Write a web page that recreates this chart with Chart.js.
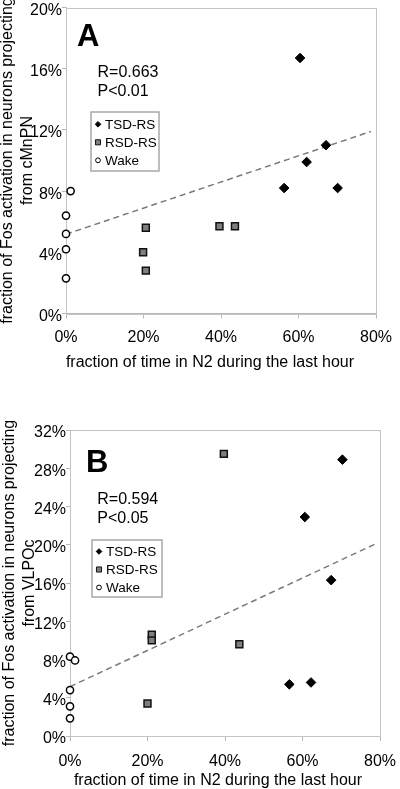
<!DOCTYPE html>
<html><head><meta charset="utf-8">
<script src="https://cdn.jsdelivr.net/npm/chart.js@4/dist/chart.umd.min.js"></script>
<style>
html,body{margin:0;padding:0;background:#fff;width:400px;height:789px;overflow:hidden}
canvas{position:absolute;left:0}
#ca{top:0}
#cb{top:390px}
</style></head><body>
<canvas id="ca" width="400" height="390"></canvas>
<canvas id="cb" width="400" height="399"></canvas>
<script>
// ---------- data ----------
const xTicks = [0, 20, 40, 60, 80];
const yTicksA = [0, 4, 8, 12, 16, 20];
const yTicksB = [0, 4, 8, 12, 16, 20, 24, 28, 32];
const legendLabels = ['TSD-RS', 'RSD-RS', 'Wake'];

// Panel A (cMnPN)
const tsdA_x = [60.4, 67.1, 62.1, 56.3, 70.1];
const tsdA_y = [16.7, 11.0, 9.9, 8.2, 8.2];
const rsdA_x = [20.6, 19.9, 20.6, 39.6, 43.6];
const rsdA_y = [5.6, 4.0, 2.8, 5.7, 5.7];
const wakeA_x = [1.2, 0, 0, 0, 0];
const wakeA_y = [8.0, 6.4, 5.2, 4.2, 2.3];
const trendA_x = [0, 78.7];
const trendA_y = [5.18, 11.9];

// Panel B (VLPOc)
const tsdB_x = [70.3, 60.6, 67.4, 56.6, 62.2];
const tsdB_y = [28.9, 22.9, 16.3, 5.4, 5.6];
const rsdB_x = [39.7, 21.1, 21.1, 43.7, 20.0];
const rsdB_y = [29.5, 10.6, 10.0, 9.6, 3.4];
const wakeB_x = [0, 1.3, 0, 0, 0];
const wakeB_y = [8.3, 7.9, 4.8, 3.1, 1.85];
const trendB_x = [0, 78.9];
const trendB_y = [5.16, 20.1];

// ---------- helpers ----------
const FONT = "'Liberation Sans', Arial, Helvetica, sans-serif";
Chart.defaults.font.family = FONT;
Chart.defaults.color = '#000';
const zip = (xs, ys) => xs.map((x, i) => ({x: x, y: ys[i]}));

function makeChart(id, cfg) {
  const styles = [
    {pointStyle: 'rectRot', radius: 4.8, bg: '#000', bc: '#000', bw: 1, lr: 2.8},
    {pointStyle: 'rect', radius: 4.9, bg: '#7f7f7f', bc: '#111', bw: 1.5, lr: 3.6},
    {pointStyle: 'circle', radius: 3.6, bg: '#fff', bc: '#000', bw: 1.5, lr: 2.4}
  ];
  const series = [zip(cfg.tsd_x, cfg.tsd_y), zip(cfg.rsd_x, cfg.rsd_y), zip(cfg.wake_x, cfg.wake_y)];
  const datasets = series.map((d, i) => ({
    label: legendLabels[i], data: d, order: 1, clip: false,
    pointStyle: styles[i].pointStyle, pointRadius: styles[i].radius, pointHoverRadius: styles[i].radius,
    pointBackgroundColor: styles[i].bg, pointBorderColor: styles[i].bc, pointBorderWidth: styles[i].bw,
    showLine: false
  }));
  datasets.push({
    type: 'line', label: 'trend', data: zip(cfg.trend_x, cfg.trend_y), order: 5, clip: false,
    borderColor: '#7a7a7a', borderWidth: 1.5, borderDash: [6, 4], pointRadius: 0, fill: false
  });

  const overlay = {
    id: 'overlay' + id,
    afterLayout(chart) {
      const s = chart.scales.x;
      if (s._shifted) return;
      const orig = s.drawTitle;
      s.drawTitle = function () {
        const l = this.left, r = this.right;
        this.left = l + cfg.xTitleShift; this.right = r + cfg.xTitleShift;
        orig.call(this);
        this.left = l; this.right = r;
      };
      s._shifted = true;
    },
    beforeDatasetsDraw(chart) {
      const {ctx, chartArea: a} = chart;
      ctx.save();
      ctx.strokeStyle = '#c4c4c4';
      ctx.lineWidth = 1;
      ctx.strokeRect(Math.round(a.left) + 0.5, Math.round(a.top) + 0.5,
                     Math.round(a.right - a.left), Math.round(a.bottom - a.top));
      ctx.restore();
    },
    afterDraw(chart) {
      const ctx = chart.ctx;
      ctx.save();
      ctx.fillStyle = '#000';
      ctx.textBaseline = 'alphabetic';
      ctx.textAlign = 'left';
      ctx.font = 'bold 31px ' + FONT;
      ctx.fillText(cfg.letter, cfg.letterX, cfg.letterY);
      ctx.font = '16px ' + FONT;
      ctx.fillText(cfg.stat1, cfg.statX, cfg.statY1);
      ctx.fillText(cfg.stat2, cfg.statX, cfg.statY2);
      // legend box
      const L = cfg.legend;
      ctx.strokeStyle = '#a8a8a8';
      ctx.lineWidth = 1.5;
      ctx.strokeRect(L.x, L.y, L.w, L.h);
      ctx.font = '13.5px ' + FONT;
      ctx.textBaseline = 'middle';
      legendLabels.forEach((t, i) => {
        const cy = L.y + L.firstY + i * L.step;
        const s = styles[i];
        ctx.fillStyle = s.bg; ctx.strokeStyle = s.bc; ctx.lineWidth = 1;
        Chart.helpers.drawPoint(ctx, {pointStyle: s.pointStyle, radius: s.lr, borderWidth: 1}, L.x + 7, cy);
        ctx.fillStyle = '#000';
        ctx.fillText(t, L.x + 14, cy + 1);
      });
      ctx.restore();
    }
  };

  const tickFont = {size: 16, family: FONT};
  return new Chart(document.getElementById(id), {
    type: 'scatter',
    data: {datasets: datasets},
    plugins: [overlay],
    options: {
      responsive: false, animation: false, devicePixelRatio: 1,
      layout: {autoPadding: false, padding: {left: 0, right: cfg.padRight, top: cfg.top, bottom: 0}},
      plugins: {legend: {display: false}, tooltip: {enabled: false}},
      scales: {
        x: {
          type: 'linear', min: 0, max: 80,
          afterBuildTicks: s => { s.ticks = xTicks.map(v => ({value: v})); },
          ticks: {callback: v => v + '%', font: tickFont, color: '#000', padding: cfg.xTickPad, maxRotation: 0, autoSkip: false},
          grid: {drawOnChartArea: false, tickLength: 5, color: '#b8b8b8'},
          border: {color: '#b8b8b8'},
          title: {display: true, text: 'fraction of time in N2 during the last hour', font: {size: 16, family: FONT}, color: '#000', padding: {top: 0, bottom: cfg.xTitlePad}},
          afterFit: s => { s.height = cfg.xAxisH; s.paddingLeft = 0; s.paddingRight = 0; }
        },
        y: {
          type: 'linear', min: 0, max: cfg.yMax,
          afterBuildTicks: s => { s.ticks = cfg.yTicks.map(v => ({value: v})); },
          ticks: {callback: v => v + '%', font: tickFont, color: '#000', padding: 0, labelOffset: 3},
          grid: {drawOnChartArea: false, tickLength: 4, color: '#b8b8b8'},
          border: {color: '#b8b8b8'},
          title: {display: true, text: ['fraction of Fos activation in neurons projecting', cfg.yTitle2], font: {size: 16, family: FONT, lineHeight: 1.25}, color: '#000', padding: {top: cfg.yTitlePad, bottom: 0}},
          afterFit: s => { s.width = cfg.yAxisW; s.paddingTop = 0; s.paddingBottom = 0; }
        }
      }
    }
  });
}

makeChart('ca', {
  tsd_x: tsdA_x, tsd_y: tsdA_y, rsd_x: rsdA_x, rsd_y: rsdA_y, wake_x: wakeA_x, wake_y: wakeA_y,
  trend_x: trendA_x, trend_y: trendA_y,
  yMax: 20, yTicks: yTicksA, yTitle2: 'from cMnPN',
  yAxisW: 66, padRight: 24, top: 7.5, xAxisH: 390 - 313.5, xTitlePad: 18, yTitlePad: -2,
  xTickPad: 9, xTitleShift: -11,
  letter: 'A', letterX: 77, letterY: 45.5,
  stat1: 'R=0.663', stat2: 'P<0.01', statX: 97.5, statY1: 76.7, statY2: 95.7,
  legend: {x: 91, y: 112, w: 68, h: 59, firstY: 12.3, step: 18}
});

makeChart('cb', {
  tsd_x: tsdB_x, tsd_y: tsdB_y, rsd_x: rsdB_x, rsd_y: rsdB_y, wake_x: wakeB_x, wake_y: wakeB_y,
  trend_x: trendB_x, trend_y: trendB_y,
  yMax: 32, yTicks: yTicksB, yTitle2: 'from VLPOc',
  yAxisW: 70, padRight: 20, top: 40, xAxisH: 399 - 346, xTitlePad: -1, yTitlePad: 0,
  xTickPad: 11, xTitleShift: -7,
  letter: 'B', letterX: 86, letterY: 81.7,
  stat1: 'R=0.594', stat2: 'P<0.05', statX: 97.3, statY1: 114, statY2: 133,
  legend: {x: 92, y: 150, w: 70, h: 57, firstY: 11.5, step: 18}
});
</script>
</body></html>
